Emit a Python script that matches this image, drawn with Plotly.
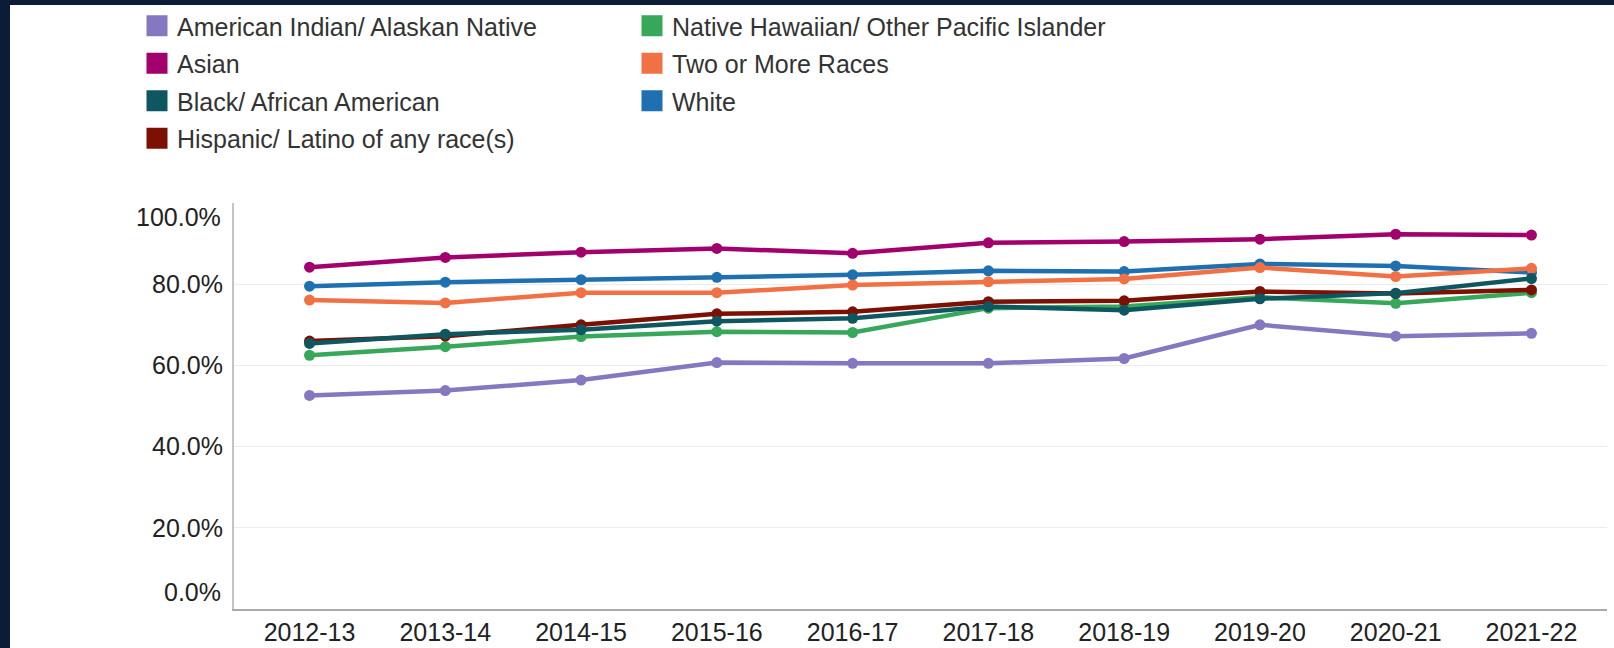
import plotly.graph_objects as go

years = ['2012-13', '2013-14', '2014-15', '2015-16', '2016-17',
         '2017-18', '2018-19', '2019-20', '2020-21', '2021-22']

amInd = [52.6, 53.8, 56.4, 60.7, 60.5, 60.5, 61.7, 70.0, 67.2, 67.9]
asian = [84.2, 86.6, 87.9, 88.8, 87.6, 90.2, 90.5, 91.1, 92.3, 92.1]
black = [65.4, 67.7, 68.8, 70.9, 71.6, 74.5, 73.6, 76.4, 77.8, 81.4]
hispanic = [66.0, 67.2, 70.0, 72.7, 73.2, 75.7, 75.9, 78.2, 77.7, 78.6]
nhpi = [62.5, 64.6, 67.1, 68.3, 68.1, 74.1, 74.5, 76.8, 75.3, 77.9]
twoMore = [76.1, 75.4, 77.9, 77.9, 79.8, 80.6, 81.3, 84.1, 81.9, 83.9]
white = [79.5, 80.5, 81.1, 81.7, 82.3, 83.3, 83.1, 85.0, 84.5, 82.9]

yTicks = [0, 20, 40, 60, 80, 100]

# name, values, colour, legend column
series = [
    ('American Indian/ Alaskan Native', amInd, '#8677c1', 'legend'),
    ('Asian', asian, '#a2006d', 'legend'),
    ('Black/ African American', black, '#0e5761', 'legend'),
    ('Hispanic/ Latino of any race(s)', hispanic, '#7b1003', 'legend'),
    ('Native Hawaiian/ Other Pacific Islander', nhpi, '#37a75a', 'legend2'),
    ('Two or More Races', twoMore, '#f17044', 'legend2'),
    ('White', white, '#1f70b0', 'legend2'),
]

NAVY = '#0b1d36'
FONT = 'Liberation Sans, Arial, sans-serif'
FS = 25

fig = go.Figure()

# lines, drawn last-to-first so the first series sits on top
for name, vals, col, _ in reversed(series):
    fig.add_trace(go.Scatter(
        x=years, y=vals, name=name, mode='lines+markers',
        line=dict(color=col, width=4.5),
        marker=dict(color=col, size=11),
        legendgroup=name, showlegend=False,
    ))

# square legend swatches
for name, vals, col, leg in series:
    fig.add_trace(go.Scatter(
        x=[None], y=[None], name=name, mode='markers',
        marker=dict(symbol='square', size=16, color=col, line=dict(color=col, width=5)),
        legendgroup=name, legend=leg, showlegend=True,
    ))

legendStyle = dict(
    xref='container', yref='container', xanchor='left', yanchor='top',
    y=1 - 3 / 648, bgcolor='rgba(0,0,0,0)', borderwidth=0,
    font=dict(family=FONT, size=FS, color='#333333'),
    tracegroupgap=2, orientation='v',
)

# white panel over the navy page
fig.add_shape(type='rect', xref='paper', yref='paper',
              x0=(10 - 234) / 1373, x1=1.01, y0=-0.2, y1=(609 - 5) / 406,
              fillcolor='white', line=dict(width=0), layer='below')

# end labels sit inside the axis span, as in the original chart
tickText = ['' if v in (yTicks[0], yTicks[-1]) else f'{v:.1f}%' for v in yTicks]
for v, shift in ((yTicks[-1], -14), (yTicks[0], 17)):
    fig.add_annotation(
        text=f'{v:.1f}%', xref='paper', x=0, yref='y', y=v,
        xanchor='right', yanchor='middle', xshift=-11, yshift=shift,
        showarrow=False, font=dict(family=FONT, size=FS, color='#222222'),
    )

fig.update_layout(
    width=1614, height=648, autosize=False,
    margin=dict(l=234, r=7, t=203, b=39, autoexpand=False),
    paper_bgcolor=NAVY, plot_bgcolor='white',
    font=dict(family=FONT, size=FS, color='#222222'),
    legend=dict(x=137 / 1614, **legendStyle),
    legend2=dict(x=632 / 1614, **legendStyle),
    xaxis=dict(
        type='category', showgrid=False, showline=True, linecolor='#aaaaaa',
        linewidth=2, ticks='', ticklabelstandoff=0, tickangle=0,
        tickfont=dict(family=FONT, size=FS, color='#222222'),
    ),
    yaxis=dict(
        range=[0, 100], tickvals=yTicks, ticktext=tickText,
        showgrid=True, gridcolor='#ececec', gridwidth=1, zeroline=False,
        showline=True, linecolor='#c4c4c4', linewidth=2, ticks='',
        ticklabelstandoff=4,
        tickfont=dict(family=FONT, size=FS, color='#222222'),
    ),
    hovermode='closest',
)

fig.write_html('out.html', config={'displayModeBar': False},
               post_script="document.body.style.margin='0';"
                           "document.body.style.background='" + NAVY + "';")
